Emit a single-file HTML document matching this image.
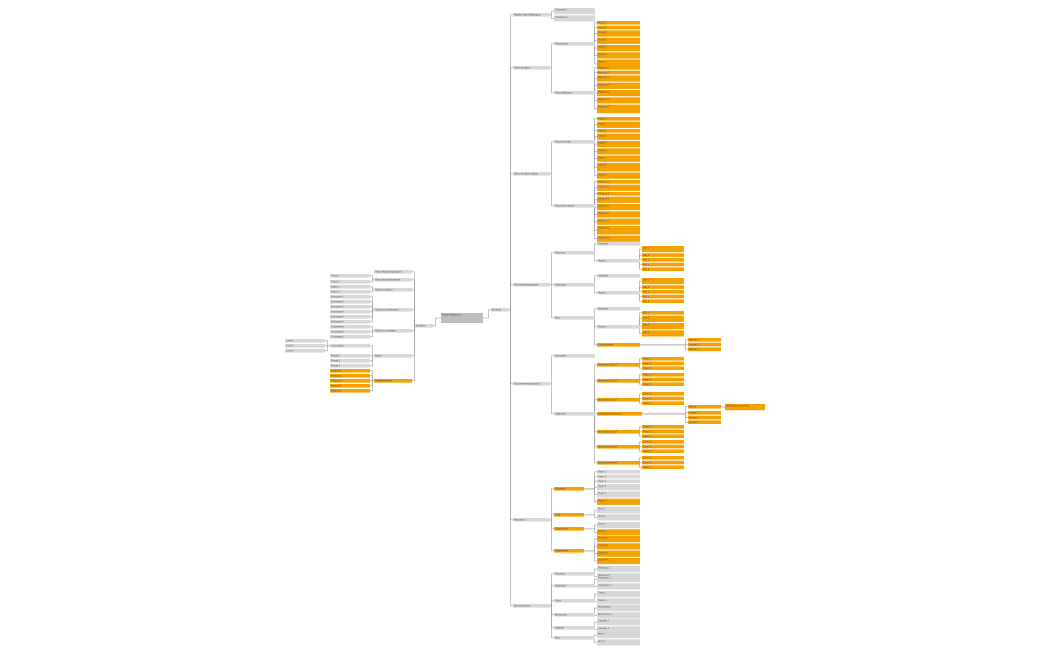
<!DOCTYPE html>
<html><head><meta charset="utf-8">
<style>
html,body{margin:0;padding:0;background:#fff;width:1050px;height:650px;overflow:hidden}
svg{display:block}
text{font-family:"Liberation Sans",sans-serif;fill:#555}
</style></head>
<body>
<svg id="map" width="1050" height="650" viewBox="0 0 1050 650" xmlns="http://www.w3.org/2000/svg">
<g id="links"></g>
<g id="nodes"></g>
</svg>
<script>
const G='#d8d8d8',O='#f5a100';
const NS='http://www.w3.org/2000/svg';
const links=document.getElementById('links'),nodesG=document.getElementById('nodes');
const LH={1:3.6,2:6.2,3:8.6};
function node(x,y,w,h,c,label,parent,dir){
  const g=document.createElementNS(NS,'g');
  
  
  const r=document.createElementNS(NS,'rect');
  r.setAttribute('x',x);r.setAttribute('y',y);r.setAttribute('width',w);r.setAttribute('height',h);r.setAttribute('fill',c);
  g.appendChild(r);
  const t=document.createElementNS(NS,'text');
  t.setAttribute('x',x+1);t.setAttribute('y',y+Math.min(h,3.6)/2+0.9);
  t.setAttribute('font-size',h>10?6:2.3);
  if(h>10){t.setAttribute('y',y+h/2+2);t.setAttribute('x',x+3);}
  t.textContent=label;g.appendChild(t);
  nodesG.appendChild(g);
  const n={x,y,w,h};
  if(parent){
    const p=document.createElementNS(NS,'path');
    let d;
    if(dir==='L'){const px=parent.x,py=parent.y+parent.h/2,cx=x+w,cy=y+h/2,m=cx+2.5;d=`M${px},${py}H${m}V${cy}H${cx}`;}
    else{const px=parent.x+parent.w,py=parent.y+parent.h/2,cx=x,cy=y+h/2,m=cx-2.5;d=`M${px},${py}H${m}V${cy}H${cx}`;}
    p.setAttribute('d',d);p.setAttribute('fill','none');p.setAttribute('stroke','#9a9a9a');p.setAttribute('stroke-width','0.6');
    links.appendChild(p);
  }
  return n;
}
function leaves(parent,x,w,y0,items,c,label,dir){
  let y=y0;const out=[];
  items.forEach((k,i)=>{const h=LH[k];const col=Array.isArray(c)?c[i]:c;out.push(node(x,y,w,h,col,label+' '+(i+1),parent,dir));y+=h+1.1;});
  return out;
}
// root
const root=node(441,313,42,10,'#bdbdbd','Яндекс Маршруты',null);
const vit=node(491,308,17,3.6,G,'Витрина',root);
// Right side L1
const r1=node(513,13,37,3.6,G,'Яндекс Карты/Маршруты',vit);
leaves(r1,554,41,8,[2,2],G,'Описание');
const r2=node(513,66,37,3.6,G,'Поиск на карте',vit);
const a1=node(554,42,41,3.6,G,'Поиск места',r2);
leaves(a1,597,43,21,[1,1,2,2,2,2,3],O,'Поиск');
const a2=node(554,91,41,3.6,G,'Поиск маршрута',r2);
leaves(a2,597,43,66,[1,1,2,2,2,2,3],O,'Маршрут');
const r3=node(513,172,37,3.6,G,'Поиск на карте города',vit);
const a3=node(554,140,41,3.6,G,'Поиск в городе',r3);
leaves(a3,597,43,117,[1,2,1,2,2,2,2,3,2],O,'Город');
const a4=node(554,204,41,3.6,G,'Поиск вне города',r3);
leaves(a4,597,43,180,[1,2,1,2,2,2,2,3,2],O,'Область');
const r4=node(513,283,37,3.6,G,'Построение маршрута',vit);
const b1=node(554,251,41,3.6,G,'Пешеход',r4);
node(597,242,43,3.6,G,'Описание',b1);
const b1b=node(597,259,43,3.6,G,'Пункты',b1);
leaves(b1b,642,42,246,[2,1,1,1,1],O,'Шаг');
const b2=node(554,283,41,3.6,G,'Транспорт',r4);
node(597,274,43,3.6,G,'Описание',b2);
const b2b=node(597,291,43,3.6,G,'Пункты',b2);
leaves(b2b,642,42,278,[2,1,1,1,1],O,'Шаг');
const b3=node(554,316,41,3.6,G,'Авто',r4);
node(597,307,43,3.6,G,'Описание',b3);
const b3b=node(597,325,43,3.6,G,'Пункты',b3);
leaves(b3b,642,42,311,[1,2,2,2],O,'Шаг');
const b3c=node(597,343,43,3.6,O,'Альтернатива',b3);
leaves(b3c,688,33,338,[1,1,1],O,'Вариант');
const r5=node(513,382,37,3.6,G,'Построение маршрута 2',vit);
node(554,354,41,3.6,G,'Настройки',r5);
const c1=node(554,412,41,3.6,G,'Транспорт',r5);
const cy=[363,379,398];
cy.forEach((y,i)=>{const n=node(597,y,43,3.6,O,'Вид транспорта '+(i+1),c1);leaves(n,642,42,y-6,[1,1,1],O,'Пункт');});
const c4=node(597,412,45,3.6,O,'Сравнение вариантов',c1);
const c4a=node(688,405,33,3.6,O,'Выбор',c4);
node(725,404,40,6.2,O,'Подробности выбора',c4a);
leaves(c4,688,33,411,[1,1,1],O,'Опция');
[430,445,461].forEach((y,i)=>{const n=node(597,y,43,3.6,O,'Вид транспорта '+(i+4),c1);leaves(n,642,42,y-5,[1,1,1],O,'Пункт');});
const r6=node(513,518,37,3.6,G,'Маршруты',vit);
const d1=node(554,487,30,3.6,O,'Основные',r6);
leaves(d1,597,43,470,[1,1,1,2,2,2],[G,G,G,G,G,O],'Пункт');
const d2=node(554,513,30,3.6,O,'Пути',r6);
leaves(d2,597,43,507,[2,2],G,'Путь');
const d3=node(554,527,30,3.6,O,'Сохранение',r6);
leaves(d3,597,43,522,[2,2],[G,O],'Сохр');
const d4=node(554,549,30,3.6,O,'Поделиться',r6);
leaves(d4,597,43,536,[2,2,2,2],O,'Ссылка');
const r7=node(513,604,37,3.6,G,'Дополнительно',vit);
[[572,'Пешеход'],[584,'Транспорт'],[599,'Такси'],[613,'Велосипед'],[626,'Самокат'],[636,'Авто']].forEach(([y,l],i)=>{
  const n=node(554,y,41,3.6,G,l,r7);leaves(n,597,43,[566,576,591,605,619,632][i],[2,2].slice(0,i==5?2:2),G,l);
});
// Left side
const lroot=node(415,324,18,3.6,G,'В работе',root,'L');
function lnode(x,y,w,c,l,p){return node(x,y,w,3.6,c,l,p,'L');}
const l1=lnode(374,270,38,G,'Поиск Яндекс Маршруты',lroot);
const l2=lnode(374,278,38,G,'Поиск местоположения',lroot);
[274,280].forEach((y,i)=>lnode(330,y,40,G,'Точка '+(i+1),l2));
const l3=lnode(374,288,38,G,'Поиск по адресу',lroot);
[285,290].forEach((y,i)=>lnode(330,y,40,G,'Адрес '+(i+1),l3));
const l4=lnode(374,308,38,G,'Поиск по организации',lroot);
[295,300,305,310,315,320].forEach((y,i)=>lnode(330,y,40,G,'Категория '+(i+1),l4));
const l5=lnode(374,329,38,G,'Поиск по остановке',lroot);
[325,330,335].forEach((y,i)=>lnode(330,y,40,G,'Остановка '+(i+1),l5));
const l6=lnode(374,354,38,G,'Карта',lroot);
const l6a=lnode(330,344,40,G,'Слои карты',l6);
[339,344,349].forEach((y,i)=>lnode(285,y,40,G,'Слой '+(i+1),l6a));
[354,359,364].forEach((y,i)=>lnode(330,y,40,G,'Режим '+(i+1),l6));
const l7=lnode(374,379,38,O,'Новые функции',lroot);
[369,374,379,384,389].forEach((y,i)=>lnode(330,y,40,O,'Функция '+(i+1),l7));
</script>
</body></html>
